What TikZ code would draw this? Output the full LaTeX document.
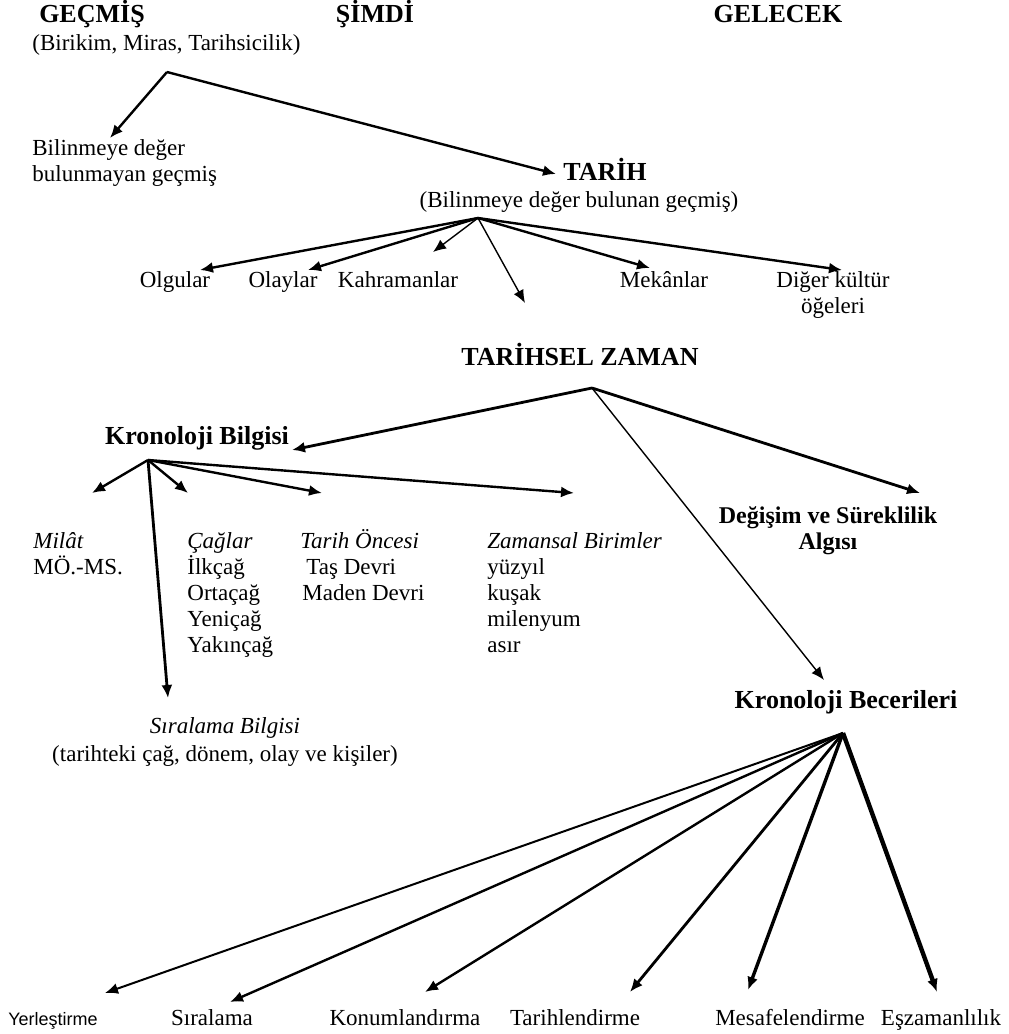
\documentclass[tikz,border=0pt]{standalone}
\usepackage{fontspec}
\setmainfont{Liberation Serif}
\newfontfamily\arialfont{Liberation Sans}
\usetikzlibrary{arrows.meta}
\begin{document}
\begin{tikzpicture}[x=0.5pt,y=-0.5pt,
          t/.style={inner sep=0pt,anchor=base,font=\fontsize{11.5}{13}\selectfont,align=left},
          hb/.style={inner sep=0pt,anchor=base,font=\fontsize{13}{14}\selectfont\bfseries,align=center},
          a/.style={line width=1.2pt,-{Latex[length=6.5pt,width=5.5pt]}},
          thin a/.style={a,line width=0.7pt}
          ]
          \useasboundingbox (0,0) rectangle (1008,1034);
          % zaman basliklari
          \node[hb] (gecmis) at (92,22) {GEÇMİŞ};
          \node[hb] (simdi) at (375,22) {ŞİMDİ};
          \node[hb] (gelecek) at (778,22) {GELECEK};
          \node[t,anchor=base west] (gecmisalt) at (32,50) {(Birikim, Miras, Tarihsicilik)};
          \node[t,anchor=base west] (bilinmeyen) at (32,181) {Bilinmeye değer\\bulunmayan geçmiş};
          \node[hb] (tarih) at (605,180) {TARİH};
          \node[t] (tarihalt) at (579,207) {(Bilinmeye değer bulunan geçmiş)};
          \coordinate (gecmisV) at (167,72);
          \coordinate (bilinmeyenT) at (110,138);
          \coordinate (tarihT) at (556,174);
          \draw[a] (gecmisV) -- (bilinmeyenT);
          \draw[a] (gecmisV) -- (tarihT);

          % tarih ogeleri
          \node[t] (olgular) at (175,287) {Olgular};
          \node[t] (olaylar) at (283,287) {Olaylar};
          \node[t] (kahraman) at (398,287) {Kahramanlar};
          \node[t] (mekan) at (664,287) {Mekânlar};
          \node[t,align=center] (diger) at (833,313) {Diğer kültür\\öğeleri};
          \coordinate (tarihV) at (478,218);
          \coordinate (olgularT) at (200,270);
          \coordinate (olaylarT) at (308,270);
          \coordinate (kahramanT) at (433,252);
          \coordinate (bosT) at (525,303);
          \coordinate (mekanT) at (650,268);
          \coordinate (digerT) at (842,270);
          \draw[a] (tarihV) -- (olgularT);
          \draw[a] (tarihV) -- (olaylarT);
          \draw[thin a] (tarihV) -- (kahramanT);
          \draw[thin a] (tarihV) -- (bosT);
          \draw[a] (tarihV) -- (mekanT);
          \draw[a] (tarihV) -- (digerT);

          % tarihsel zaman
          \node[hb] (tzaman) at (580,365) {TARİHSEL ZAMAN};
          \node[hb] (kbilgi) at (197,444) {Kronoloji Bilgisi};
          \node[hb,font=\fontsize{12}{13}\selectfont\bfseries] (degisim) at (828,549) {Değişim ve Süreklilik\\Algısı};
          \node[hb] (kbeceri) at (846,708) {Kronoloji Becerileri};
          \coordinate (tzamanV) at (592,388);
          \coordinate (kbilgiT) at (292,450);
          \coordinate (degisimT) at (920,493);
          \coordinate (kbeceriT) at (824,680);
          \draw[a,line width=1.4pt] (tzamanV) -- (kbilgiT);
          \draw[a,line width=1.4pt] (tzamanV) -- (degisimT);
          \draw[thin a] (tzamanV) -- (kbeceriT);

          % kronoloji bilgisi
          \node[t,anchor=base west] (milat) at (33,574) {\textit{Milât}\\MÖ.-MS.};
          \node[t,anchor=base west] (caglar) at (187,652) {\textit{Çağlar}\\İlkçağ\\Ortaçağ\\Yeniçağ\\Yakınçağ};
          \node[t,anchor=base west] (tarihonce) at (300,600) {\textit{Tarih Öncesi}\\\hspace{3pt}Taş Devri\\\hspace{1pt}Maden Devri};
          \node[t,anchor=base west] (zamansal) at (487,652) {\textit{Zamansal Birimler}\\yüzyıl\\kuşak\\milenyum\\asır};
          \node[t,align=center,font=\fontsize{11.5}{14}\selectfont] (siralamab) at (225,761) {\textit{Sıralama Bilgisi}\\(tarihteki çağ, dönem, olay ve kişiler)};
          \coordinate (kbilgiV) at (148,460);
          \coordinate (milatT) at (92,493);
          \coordinate (caglarT) at (188,493);
          \coordinate (tarihonceT) at (322,493);
          \coordinate (zamansalT) at (574,493);
          \coordinate (siralamabT) at (168,698);
          \draw[a] (kbilgiV) -- (milatT);
          \draw[a] (kbilgiV) -- (caglarT);
          \draw[a] (kbilgiV) -- (tarihonceT);
          \draw[a] (kbilgiV) -- (zamansalT);
          \draw[a,line width=1.4pt] (kbilgiV) -- (siralamabT);

          % kronoloji becerileri
          \node[t,font=\arialfont\fontsize{9}{11}\selectfont] (yerlestirme) at (53,1025) {Yerleştirme};
          \node[t] (siralama) at (212,1025) {Sıralama};
          \node[t] (konum) at (405,1025) {Konumlandırma};
          \node[t] (tarihlendirme) at (575,1025) {Tarihlendirme};
          \node[t] (mesafe) at (790,1025) {Mesafelendirme};
          \node[t] (eszaman) at (941,1025) {Eşzamanlılık};
          \coordinate (kbeceriV) at (843,733);
          \coordinate (yerlestirmeT) at (105,993);
          \coordinate (siralamaT) at (230,1002);
          \coordinate (konumT) at (425,992);
          \coordinate (tarihlendirmeT) at (630,992);
          \coordinate (mesafeT) at (748,990);
          \coordinate (eszamanT) at (937,992);
          \draw[a,line width=1pt] (kbeceriV) -- (yerlestirmeT);
          \draw[a] (kbeceriV) -- (siralamaT);
          \draw[a] (kbeceriV) -- (konumT);
          \draw[a,line width=1.4pt] (kbeceriV) -- (tarihlendirmeT);
          \draw[a,line width=1.7pt] (kbeceriV) -- (mesafeT);
          \draw[a,line width=2.2pt] (kbeceriV) -- (eszamanT);
        \end{tikzpicture}
\end{document}
